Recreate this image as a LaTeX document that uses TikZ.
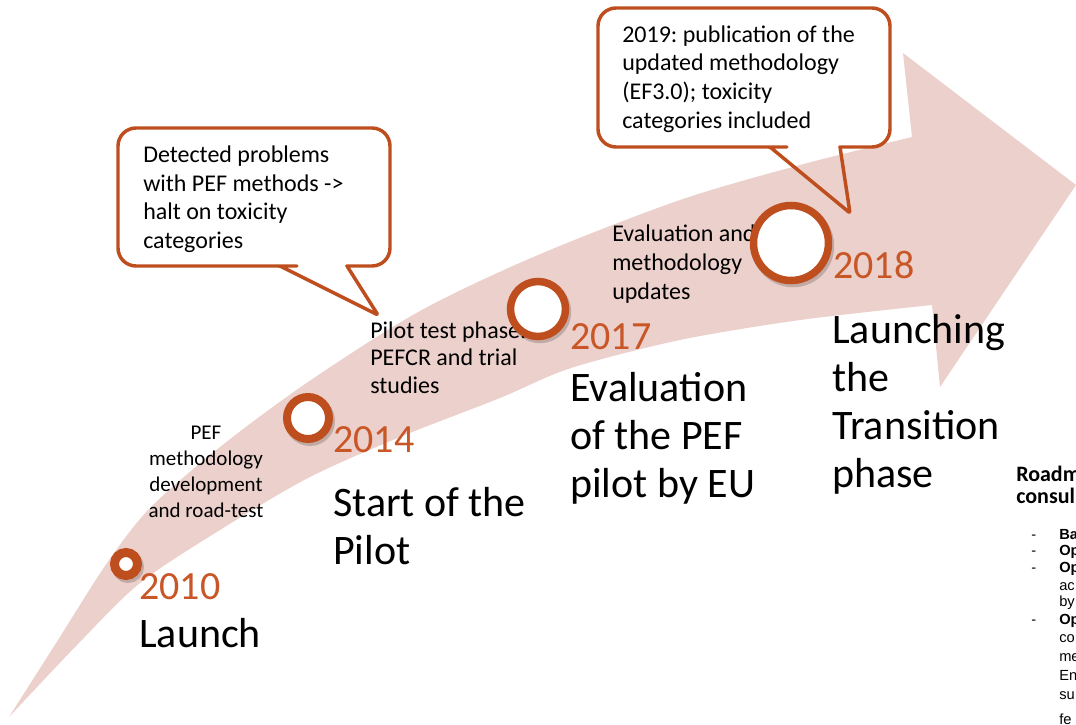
\documentclass[tikz,border=0pt]{standalone}
\usepackage{fontspec}
\setmainfont{Carlito}
\newfontfamily\listfont{Liberation Sans}
\usepackage{tikz}
\usetikzlibrary{calc}
\frenchspacing

\definecolor{rust}{RGB}{190,78,30}
\definecolor{yearcol}{RGB}{200,86,38}
\definecolor{bandcol}{RGB}{236,208,203}

\begin{document}
\begin{tikzpicture}[x=0.75pt, y=-0.75pt,
    callout/.style={draw=rust, line width=2.6pt, line join=round},
    ring/.style={draw=rust, fill=white},
    ringshadow/.style={draw=black, opacity=0.18},
    year/.style={anchor=base west, inner sep=0pt, text=yearcol, font=\fontsize{30}{36}\selectfont},
    milestone/.style={anchor=base west, inner sep=0pt, align=left, font=\fontsize{31.5}{35.8}\selectfont},
    note/.style={anchor=base west, inner sep=0pt, align=left, font=\fontsize{18}{21.4}\selectfont},
    listitem/.style={anchor=base west, inner sep=0pt, font=\listfont\fontsize{11}{12}\selectfont}]

        \useasboundingbox (0,0) rectangle (1076,725);
        \clip (0,0) rectangle (1076,725);

        %
        \coordinate (tail) at (9,717);
        \coordinate (tip) at (1076,185);
        \coordinate (headtop) at (903,53);
        \coordinate (headbot) at (940,387);

        %
        \fill[bandcol] plot[smooth] coordinates {(tail) (58,640) (107,563) (150,508) (220,447) (308,382) (420,311) (538,255) (680,200) (800,165) (912,137)}
            -- (headtop) -- (tip) -- (headbot)
            -- plot[smooth] coordinates {(932,305) (800,320) (680,340) (571,368) (500,398) (400,437) (308,478) (220,530) (140,583) (77,645) (tail)}
            -- cycle;

        %
        %
        \node[note, align=center, anchor=base, font=\fontsize{15.75}{19.3}\selectfont] (devnote) at (206,517) {PEF\\methodology\\development\\and road-test};
        \node[note, font=\fontsize{18}{20.6}\selectfont] (pilotnote) at (370,393) {Pilot test phase:\\PEFCR and trial\\studies};
        \node[note] (evalnote) at (612,299) {Evaluation and\\methodology\\updates};

        %
        \foreach \cx/\cy/\r/\w in {126/564/11.5/9, 308/418/21/8, 538/309/27.5/7.5, 791/243/37.5/7.5} {
            \draw[ringshadow, line width=\w*0.75pt] (\cx+2,\cy+3) circle (\r);
            \draw[ring, line width=\w*0.75pt] (\cx,\cy) circle (\r);
        }

        %
        \node[year] (y2010) at (139,599) {2010};
        \node[milestone] (m2010) at (139,647) {Launch};
        \node[year] (y2014) at (333,452) {2014};
        \node[milestone] (m2014) at (333,564) {Start of the\\Pilot};
        \node[year] (y2017) at (570,349) {2017};
        \node[milestone] (m2017) at (570,497) {Evaluation\\of the PEF\\pilot by EU};
        \node[year] (y2018) at (833,278) {2018};
        \node[milestone] (m2018) at (832,487) {Launching\\the\\Transition\\phase};

        %
        \draw[callout] (280,266) [rounded corners=1pt] -- (378,315) -- (347,266) -- (348,266)
            [rounded corners=13.5pt] -- (390,266) -- (390,128) -- (118,128) -- (118,266) -- (279,266)
            [rounded corners=1pt] -- cycle;
        \node[note] (haltnote) at (143,248.5) {Detected problems\\with PEF methods ->\\halt on toxicity\\categories};

        \draw[callout] (770,147) [rounded corners=1pt] -- (850,213) -- (840,147) -- (841,147)
            [rounded corners=13.5pt] -- (890,147) -- (890,8) -- (598,8) -- (598,147) -- (769,147)
            [rounded corners=1pt] -- cycle;
        \node[note] (pubnote) at (622,128) {2019: publication of the\\updated methodology\\(EF3.0); toxicity\\categories included};

        %
        \node[anchor=base west, inner sep=0pt, align=left, font=\bfseries\fontsize{16.5}{16}\selectfont] (roadhead) at (1016,503) {Roadm\\consul};
        \foreach \yb/\txt [count=\i] in {539/Ba, 555/Op, 572/Op, 624/Op} {
            \node[listitem] (dash\i) at (1031,\yb) {-};
            \node[listitem, font=\listfont\bfseries\fontsize{11}{12}\selectfont] (head\i) at (1059,\yb) {\txt};
        }
        \foreach \yb/\txt [count=\i] in {590/ac, 606/by, 642/co, 661/me, 680/En, 699/su, 724/fe} {
            \node[listitem] (line\i) at (1059,\yb) {\txt};
        }

    \end{tikzpicture}
\end{document}
